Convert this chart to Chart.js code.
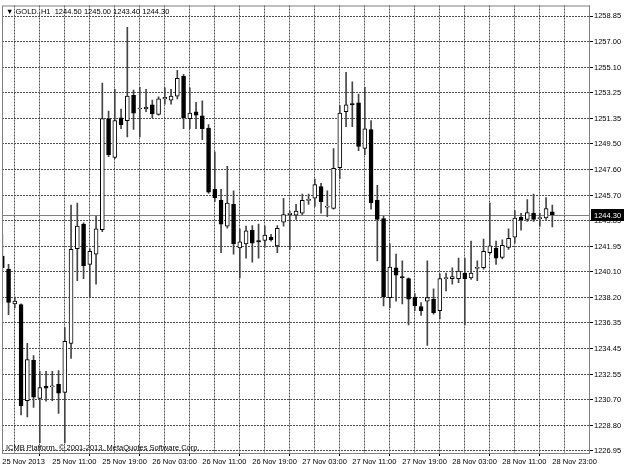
<!DOCTYPE html>
<html>
<head>
<meta charset="utf-8">
<script src="https://cdn.jsdelivr.net/npm/chart.js@4.4.0/dist/chart.umd.min.js"></script>
<style>
  html, body { margin: 0; padding: 0; background: #fff; }
</style>
</head>
<body>
<canvas id="chart" width="624" height="468"></canvas>
<script>
// GOLD H1 candles, 25-28 Nov 2013 (MetaTrader style)
const symbol = 'GOLD.,H1';
const footer = 'ICMB Platform, \u00a9 2001-2013, MetaQuotes Software Corp.';

// one label every 8 bars
const timeLabels = ['25 Nov 2013', '25 Nov 11:00', '25 Nov 19:00', '26 Nov 03:00', '26 Nov 11:00', '26 Nov 19:00',
  '27 Nov 03:00', '27 Nov 11:00', '27 Nov 19:00', '28 Nov 03:00', '28 Nov 11:00', '28 Nov 23:00'];

const priceTicks = [1258.85, 1257.00, 1255.10, 1253.25, 1251.35, 1249.50, 1247.60, 1245.70, 1243.85,
  1241.95, 1240.10, 1238.20, 1236.35, 1234.45, 1232.55, 1230.70, 1228.80, 1226.95];

const opens = [1241.25, 1240.30, 1237.75, 1237.70, 1230.65, 1233.60, 1230.80, 1231.70, 1231.65, 1231.85,
  1231.25, 1234.85, 1241.80, 1243.60, 1240.65, 1241.40, 1243.20, 1251.35, 1248.50, 1251.40,
  1251.20, 1253.05, 1252.05, 1252.05, 1252.35, 1251.65, 1252.80, 1252.70, 1253.00, 1254.45,
  1251.35, 1251.85, 1251.55, 1250.65, 1246.15, 1245.35, 1243.45, 1245.05, 1241.85, 1242.15,
  1243.15, 1242.40, 1242.40, 1242.65, 1242.00, 1243.75, 1244.30, 1244.25, 1244.40, 1245.35,
  1245.50, 1246.35, 1244.85, 1244.75, 1247.75, 1251.85, 1252.45, 1252.50, 1249.15, 1250.55,
  1245.35, 1244.00, 1238.20, 1240.40, 1239.75, 1239.60, 1238.25, 1237.55, 1237.95, 1238.10,
  1237.25, 1239.60, 1239.60, 1239.60, 1240.00, 1239.65, 1240.35, 1240.40, 1241.50, 1241.85,
  1241.15, 1241.90, 1242.65, 1244.10, 1243.95, 1244.40, 1244.00, 1244.05, 1244.50];
const highs = [1242.85, 1240.65, 1238.25, 1237.75, 1234.85, 1233.95, 1232.80, 1232.80, 1232.80, 1232.85,
  1236.00, 1245.00, 1245.15, 1243.70, 1241.80, 1244.20, 1253.95, 1251.90, 1253.50, 1252.05,
  1258.05, 1253.45, 1253.65, 1253.50, 1252.70, 1252.95, 1253.60, 1253.50, 1254.90, 1254.60,
  1253.60, 1252.55, 1252.65, 1250.90, 1248.90, 1246.15, 1247.85, 1246.05, 1243.25, 1243.45,
  1243.50, 1243.60, 1243.45, 1242.85, 1243.50, 1245.50, 1244.55, 1245.05, 1245.80, 1245.80,
  1246.90, 1246.60, 1246.05, 1249.15, 1252.30, 1254.75, 1254.05, 1253.15, 1253.65, 1251.20,
  1246.45, 1244.20, 1242.15, 1241.40, 1240.90, 1239.65, 1238.50, 1237.85, 1240.90, 1238.85,
  1239.95, 1240.00, 1240.40, 1241.10, 1241.10, 1242.35, 1240.90, 1242.50, 1245.15, 1242.35,
  1242.45, 1243.25, 1244.60, 1244.40, 1245.40, 1245.80, 1244.40, 1245.55, 1245.00];
const lows = [1240.15, 1236.95, 1237.45, 1229.60, 1229.45, 1230.15, 1227.55, 1230.60, 1230.65, 1229.70,
  1227.55, 1233.75, 1239.45, 1239.60, 1238.20, 1239.20, 1243.05, 1248.55, 1248.40, 1250.60,
  1250.00, 1250.55, 1250.00, 1251.85, 1251.40, 1251.60, 1252.40, 1252.40, 1252.80, 1250.60,
  1250.60, 1250.60, 1249.80, 1245.85, 1245.25, 1241.50, 1243.30, 1241.40, 1239.65, 1241.10,
  1240.80, 1241.10, 1241.90, 1242.35, 1241.50, 1243.45, 1241.75, 1243.95, 1244.30, 1245.05,
  1244.90, 1244.40, 1244.15, 1244.70, 1246.95, 1250.75, 1250.75, 1249.00, 1248.70, 1244.70,
  1240.90, 1237.60, 1237.45, 1237.95, 1237.75, 1236.20, 1237.25, 1236.90, 1234.70, 1237.00,
  1236.65, 1238.70, 1239.20, 1239.30, 1236.20, 1239.55, 1239.45, 1240.30, 1241.40, 1240.65,
  1241.05, 1241.75, 1242.20, 1243.15, 1243.80, 1243.80, 1243.45, 1243.95, 1243.40];
const closes = [1240.40, 1237.85, 1237.95, 1230.25, 1233.65, 1230.90, 1231.60, 1231.55, 1231.65, 1231.20,
  1235.00, 1241.75, 1243.45, 1240.55, 1241.60, 1243.25, 1251.35, 1248.70, 1251.20, 1250.90,
  1253.00, 1251.75, 1252.10, 1252.20, 1251.70, 1252.80, 1252.90, 1253.00, 1254.30, 1251.40,
  1251.75, 1251.60, 1250.60, 1245.95, 1245.55, 1243.60, 1245.15, 1242.15, 1242.30, 1243.10,
  1242.20, 1242.30, 1242.80, 1242.45, 1243.30, 1244.30, 1244.40, 1244.55, 1245.35, 1245.35,
  1246.50, 1245.25, 1244.85, 1247.70, 1251.75, 1252.35, 1252.35, 1249.30, 1250.60, 1245.15,
  1243.95, 1238.25, 1240.45, 1239.85, 1239.65, 1238.10, 1237.60, 1237.25, 1238.20, 1237.10,
  1239.60, 1239.65, 1239.75, 1240.15, 1239.60, 1240.00, 1240.40, 1241.60, 1242.00, 1241.10,
  1242.05, 1242.55, 1244.05, 1243.90, 1244.45, 1243.95, 1244.05, 1244.75, 1244.30];

const FONT = 'Liberation Sans, Arial, sans-serif';
const last = opens.length - 1;

const bodies = opens.map((o, i) => ({ x: i, y: [o, closes[i]] }));
const wicks = lows.map((l, i) => ({ x: i, y: [l, highs[i]] }));

// frame, bid line, header and copyright text
const mtDecor = {
  id: 'mtDecor',
  beforeDatasetsDraw(chart) {
    const { ctx, chartArea: a, scales: { y } } = chart;
    const py = Math.round(y.getPixelForValue(closes[last])) + 0.5;
    ctx.save();
    ctx.strokeStyle = '#808080';
    ctx.lineWidth = 1;
    ctx.beginPath();
    ctx.moveTo(a.left, py);
    ctx.lineTo(a.right, py);
    ctx.stroke();
    ctx.restore();
  },
  afterDraw(chart) {
    const { ctx, chartArea: a, scales: { y } } = chart;
    ctx.save();
    ctx.strokeStyle = '#808080';
    ctx.lineWidth = 1;
    ctx.strokeRect(a.left + 0.5, a.top + 0.5, a.right - a.left - 1, a.bottom - a.top);

    // last price box on the axis
    const py = Math.round(y.getPixelForValue(closes[last]));
    ctx.fillStyle = '#000';
    ctx.fillRect(a.right + 1, py - 6, 33, 12);
    ctx.fillStyle = '#fff';
    ctx.font = '7.5px ' + FONT;
    ctx.textBaseline = 'middle';
    ctx.fillText(closes[last].toFixed(2), a.right + 4, py + 0.5);

    ctx.fillStyle = '#000';
    const head = '\u25BC ' + symbol + '  ' + [opens[last], highs[last], lows[last], closes[last]]
      .map(v => v.toFixed(2)).join(' ');
    ctx.fillText(head, a.left + 4, a.top + 6);
    ctx.fillText(footer, a.left + 4, a.bottom - 5);
    ctx.restore();
  }
};

new Chart(document.getElementById('chart'), {
  type: 'bar',
  data: {
    datasets: [
      {
        data: bodies,
        grouped: false,
        barThickness: 4,
        minBarLength: 1,
        borderWidth: 1,
        borderSkipped: false,
        borderColor: '#000',
        backgroundColor: bodies.map((b, i) => closes[i] >= opens[i] ? '#fff' : '#000')
      },
      {
        data: wicks,
        grouped: false,
        barThickness: 1,
        borderWidth: 0,
        backgroundColor: '#444'
      }
    ]
  },
  options: {
    responsive: false,
    animation: false,
    events: [],
    layout: { padding: { left: 2, top: 3, right: 0, bottom: 0 } },
    plugins: { legend: { display: false }, tooltip: { enabled: false } },
    scales: {
      x: {
        type: 'linear',
        offset: false,
        min: -0.05,
        max: 94.03,
        afterBuildTicks: s => {
          const t = [];
          for (let v = 0; v <= 92; v += 4) t.push({ value: v });
          s.ticks = t;
        },
        afterFit: s => { s.height = 15; },
        border: { display: false, dash: [2, 1] },
        grid: {
          color: '#505050',
          tickLength: 3,
          tickColor: c => (c.tick && c.tick.value % 8 === 0) ? '#000' : 'rgba(0,0,0,0)'
        },
        ticks: {
          autoSkip: false,
          maxRotation: 0,
          align: 'start',
          padding: 1,
          color: '#000',
          font: { family: FONT, size: 7.5 },
          callback: v => v % 8 === 0 ? (timeLabels[v / 8] || '') : ''
        }
      },
      y: {
        position: 'right',
        min: 1226.80,
        max: 1259.65,
        afterBuildTicks: s => { s.ticks = priceTicks.map(v => ({ value: v })); },
        afterFit: s => { s.width = 34; },
        border: { display: false, dash: [2, 1] },
        grid: { color: '#505050', tickLength: 3, tickColor: '#000' },
        ticks: {
          padding: 1,
          color: '#000',
          font: { family: FONT, size: 7.5 },
          callback: v => v.toFixed(2)
        }
      }
    }
  },
  plugins: [mtDecor]
});
</script>
</body>
</html>
